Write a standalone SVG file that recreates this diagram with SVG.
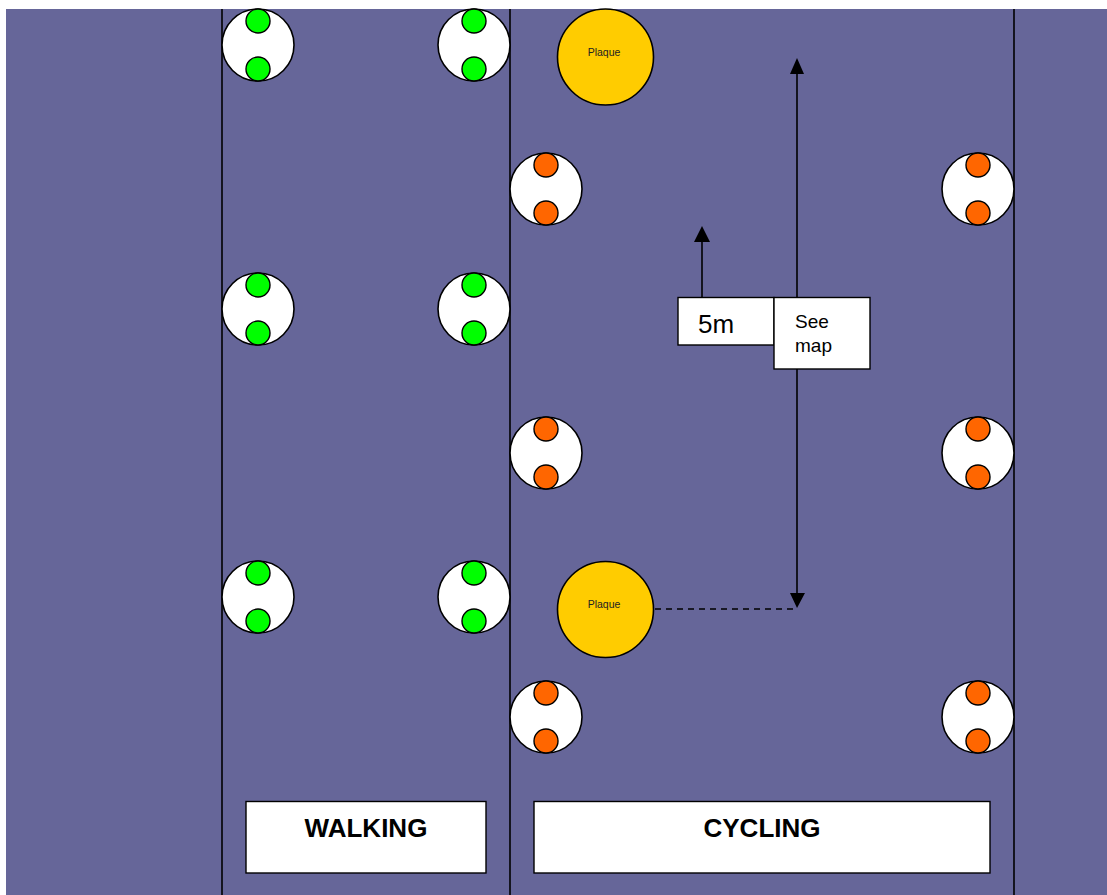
<svg xmlns="http://www.w3.org/2000/svg" width="1107" height="895" viewBox="0 0 1107 895">
<defs>
<style>
.lane{stroke:#000;stroke-width:1.6;fill:none}
.fix{fill:#fff;stroke:#000;stroke-width:1.6}
.g{fill:#00ff00;stroke:#000;stroke-width:1.4}
.o{fill:#ff6600;stroke:#000;stroke-width:1.4}
.plaque{fill:#ffcc00;stroke:#000;stroke-width:1.6}
.ptxt{font-family:"Liberation Sans",Arial,sans-serif;font-size:10.5px;fill:#222;text-anchor:middle}
.box{fill:#fff;stroke:#000;stroke-width:1.4}
.lbl{font-family:"Liberation Sans",Arial,sans-serif;font-weight:bold;font-size:26px;fill:#000;text-anchor:middle}
.t{font-family:"Liberation Sans",Arial,sans-serif;fill:#000}
</style>
<g id="fixG">
<circle class="fix" cx="0" cy="0" r="36"/>
<circle class="g" cx="0" cy="-24" r="12"/>
<circle class="g" cx="0" cy="24" r="12"/>
</g>
<g id="fixO">
<circle class="fix" cx="0" cy="0" r="36"/>
<circle class="o" cx="0" cy="-24" r="12"/>
<circle class="o" cx="0" cy="24" r="12"/>
</g>
</defs>
<rect x="0" y="0" width="1107" height="895" fill="#fff"/>
<rect id="ground" x="6" y="9" width="1101" height="886" fill="#666699"/>
<g id="lanes">
<line class="lane" x1="222" y1="9" x2="222" y2="895"/>
<line class="lane" x1="510" y1="9" x2="510" y2="895"/>
<line class="lane" x1="1014" y1="9" x2="1014" y2="895"/>
</g>
<g id="walking-fixtures">
<use href="#fixG" x="258" y="45"/>
<use href="#fixG" x="258" y="309"/>
<use href="#fixG" x="258" y="597"/>
<use href="#fixG" x="474" y="45"/>
<use href="#fixG" x="474" y="309"/>
<use href="#fixG" x="474" y="597"/>
</g>
<g id="cycling-fixtures">
<use href="#fixO" x="546" y="189"/>
<use href="#fixO" x="546" y="453"/>
<use href="#fixO" x="546" y="717"/>
<use href="#fixO" x="978" y="189"/>
<use href="#fixO" x="978" y="453"/>
<use href="#fixO" x="978" y="717"/>
</g>
<g id="connectors">
<line x1="797" y1="74" x2="797" y2="593" stroke="#000" stroke-width="1.6"/>
<path d="M797,58 L790,74 L804,74 z" fill="#000"/>
<path d="M797,608 L790,593 L805,593 z" fill="#000"/>
<line x1="702" y1="297" x2="702" y2="242" stroke="#000" stroke-width="1.6"/>
<path d="M702,226 L694,242 L710,242 z" fill="#000"/>
<line x1="655" y1="609" x2="793" y2="609" stroke="#000" stroke-width="1.4" stroke-dasharray="6,5"/>
</g>
<g id="plaque-top">
<circle class="plaque" cx="605.5" cy="57" r="48"/>
<text class="ptxt" x="604" y="56">Plaque</text>
</g>
<g id="plaque-bottom">
<circle class="plaque" cx="605.5" cy="609.5" r="48"/>
<text class="ptxt" x="604" y="608">Plaque</text>
</g>
<g id="box-5m">
<rect class="box" x="678" y="297.5" width="96" height="47.5"/>
<text class="t" x="698" y="333" font-size="26">5m</text>
</g>
<g id="box-seemap">
<rect class="box" x="774" y="297.5" width="96" height="71.5"/>
<text class="t" x="795" y="328" font-size="19">See</text>
<text class="t" x="795" y="352" font-size="19">map</text>
</g>
<g id="label-walking">
<rect class="box" x="246" y="801.5" width="240" height="71.5"/>
<text class="lbl" x="366" y="837">WALKING</text>
</g>
<g id="label-cycling">
<rect class="box" x="534" y="801.5" width="456" height="71.5"/>
<text class="lbl" x="762" y="837">CYCLING</text>
</g>
</svg>
